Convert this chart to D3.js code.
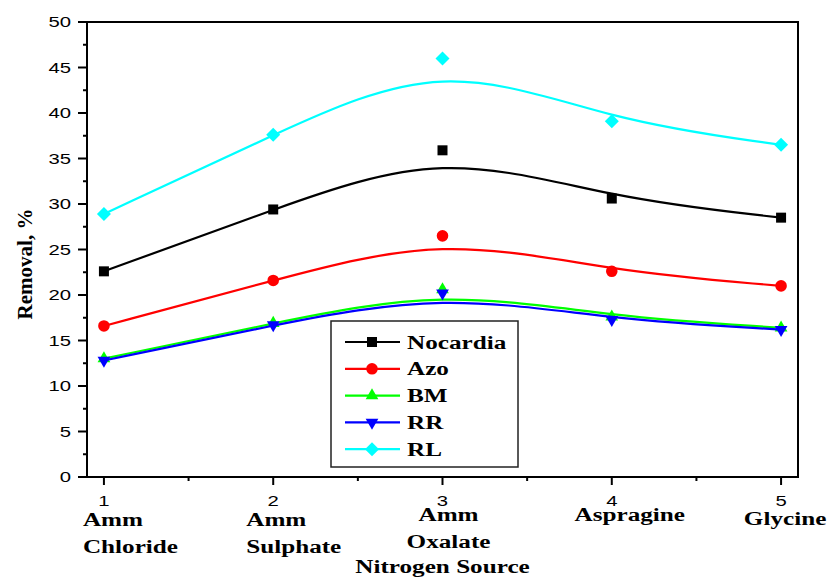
<!DOCTYPE html>
<html>
<head>
<meta charset="utf-8">
<script src="https://cdn.jsdelivr.net/npm/d3@7"></script>
<style>
  body { margin: 0; background: #fff; }
  .tick-label { font-family: "Liberation Sans", Arial, sans-serif; font-size: 14px; fill: #000; }
  .label { font-family: "Liberation Serif", "Times New Roman", serif; font-weight: bold; fill: #000; }
</style>
</head>
<body>
<div id="chart"></div>
<script>
// x positions (sources 1..5) and their names
var sources = [1, 2, 3, 4, 5];
var sourceNames = [["Amm", "Chloride"], ["Amm", "Sulphate"], ["Amm", "Oxalate"], ["Aspragine"], ["Glycine"]];

// removal %
var nocardia = [22.6, 29.4, 35.9, 30.6, 28.5];
var azo      = [16.6, 21.6, 26.5, 22.6, 21.0];
var bm       = [13.0, 16.9, 20.6, 17.6, 16.4];
var rr       = [12.8, 16.7, 20.2, 17.3, 16.2];
var rl       = [28.9, 37.6, 46.0, 39.1, 36.5];

var seriesNames = ["Nocardia", "Azo", "BM", "RR", "RL"];
var seriesValues = [nocardia, azo, bm, rr, rl];

var yTicks = [0, 5, 10, 15, 20, 25, 30, 35, 40, 45, 50];

var colors = ["#000000", "#ff0000", "#00ff00", "#0000ff", "#00ffff"];
var symbols = [
  { type: d3.symbolSquare, size: 100, rotate: 0 },
  { type: d3.symbolCircle, size: 105, rotate: 0 },
  { type: d3.symbolTriangle, size: 70, rotate: 0 },
  { type: d3.symbolTriangle, size: 70, rotate: 180 },
  { type: d3.symbolSquare, size: 98, rotate: 45 }
];

var margin = { top: 22, right: 33, bottom: 100, left: 87 };
var width = 831 - margin.left - margin.right;
var height = 577 - margin.top - margin.bottom;

var svg = d3.select("#chart").append("svg")
  .attr("width", 831)
  .attr("height", 577);

var g = svg.append("g")
  .attr("transform", "translate(" + margin.left + "," + margin.top + ")");

var x = d3.scaleLinear().domain([0.9, 5.1]).range([0, width]);
var y = d3.scaleLinear().domain([0, 50]).range([height, 0]);

// text in the source figure is stretched sideways
var tickStretch = 1.45;
var labelStretch = 1.36;

// frame
g.append("rect")
  .attr("width", width)
  .attr("height", height)
  .attr("fill", "none")
  .attr("stroke", "#000")
  .attr("stroke-width", 2);

// y ticks
yTicks.forEach(function(t){
  g.append("line")
    .attr("x1", -9).attr("x2", 0)
    .attr("y1", y(t)).attr("y2", y(t))
    .attr("stroke", "#000").attr("stroke-width", 2);
  g.append("text")
    .attr("class", "tick-label")
    .attr("text-anchor", "end")
    .attr("transform", "translate(-16," + (y(t) + 5) + ")scale(" + tickStretch + ",1)")
    .text(t);
  if (t < 50) {
    g.append("line")
      .attr("x1", -4).attr("x2", 0)
      .attr("y1", y(t + 2.5)).attr("y2", y(t + 2.5))
      .attr("stroke", "#000").attr("stroke-width", 2);
  }
});

// x ticks
sources.forEach(function(s, i){
  g.append("line")
    .attr("x1", x(s)).attr("x2", x(s))
    .attr("y1", height).attr("y2", height + 8)
    .attr("stroke", "#000").attr("stroke-width", 2);
  g.append("text")
    .attr("class", "tick-label")
    .attr("text-anchor", "middle")
    .attr("transform", "translate(" + x(s) + "," + (height + 29) + ")scale(" + tickStretch + ",1)")
    .text(s);
  if (i < sources.length - 1) {
    g.append("line")
      .attr("x1", x(s + 0.5)).attr("x2", x(s + 0.5))
      .attr("y1", height).attr("y2", height + 4)
      .attr("stroke", "#000").attr("stroke-width", 2);
  }
});

// category names under the ticks
var nameLayout = [
  { anchor: "start", dx: -21, dy: 49 },
  { anchor: "start", dx: -27, dy: 49 },
  { anchor: "middle", dx: 6, dy: 44 },
  { anchor: "middle", dx: 18, dy: 44 },
  { anchor: "middle", dx: 4, dy: 48 }
];

sourceNames.forEach(function(lines, i){
  var lay = nameLayout[i];
  lines.forEach(function(line, j){
    g.append("text")
      .attr("class", "label")
      .style("font-size", "18.5px")
      .attr("text-anchor", lay.anchor)
      .attr("transform", "translate(" + (x(sources[i]) + lay.dx) + "," + (height + lay.dy + j * 27) + ")scale(" + labelStretch + ",1)")
      .text(line);
  });
});

// axis titles
g.append("text")
  .attr("class", "label")
  .style("font-size", "18.5px")
  .attr("text-anchor", "middle")
  .attr("transform", "translate(" + (width / 2) + "," + (height + 96) + ")scale(" + labelStretch + ",1)")
  .text("Nitrogen Source");

svg.append("text")
  .attr("class", "label")
  .style("font-size", "21px")
  .attr("text-anchor", "middle")
  .attr("transform", "translate(32,264)rotate(-90)")
  .text("Removal, %");

// B-spline lines and symbols
var line = d3.line()
  .x(function(d, i){ return x(sources[i]); })
  .y(function(d){ return y(d); })
  .curve(d3.curveBasis);

seriesValues.forEach(function(vals, k){
  g.append("path")
    .datum(vals)
    .attr("d", line)
    .attr("fill", "none")
    .attr("stroke", colors[k])
    .attr("stroke-width", 2.2);

  var sym = symbols[k];
  g.selectAll(".dot-" + k)
    .data(vals)
    .enter().append("path")
    .attr("class", "dot-" + k)
    .attr("d", d3.symbol().type(sym.type).size(sym.size))
    .attr("transform", function(d, i){
      return "translate(" + x(sources[i]) + "," + y(d) + ")rotate(" + sym.rotate + ")";
    })
    .attr("fill", colors[k]);
});

// legend
var legend = svg.append("g")
  .attr("transform", "translate(331,321)");

legend.append("rect")
  .attr("width", 187)
  .attr("height", 146)
  .attr("fill", "#fff")
  .attr("stroke", "#222")
  .attr("stroke-width", 1.5);

seriesNames.forEach(function(name, k){
  var ly = 21 + k * 26.8;
  var sym = symbols[k];
  legend.append("line")
    .attr("x1", 14).attr("x2", 69)
    .attr("y1", ly).attr("y2", ly)
    .attr("stroke", colors[k])
    .attr("stroke-width", 2.2);
  legend.append("path")
    .attr("d", d3.symbol().type(sym.type).size(sym.size))
    .attr("transform", "translate(41," + ly + ")rotate(" + sym.rotate + ")")
    .attr("fill", colors[k]);
  legend.append("text")
    .attr("class", "label")
    .style("font-size", "18.5px")
    .attr("transform", "translate(76," + (ly + 6.5) + ")scale(" + labelStretch + ",1)")
    .text(name);
});
</script>
</body>
</html>
